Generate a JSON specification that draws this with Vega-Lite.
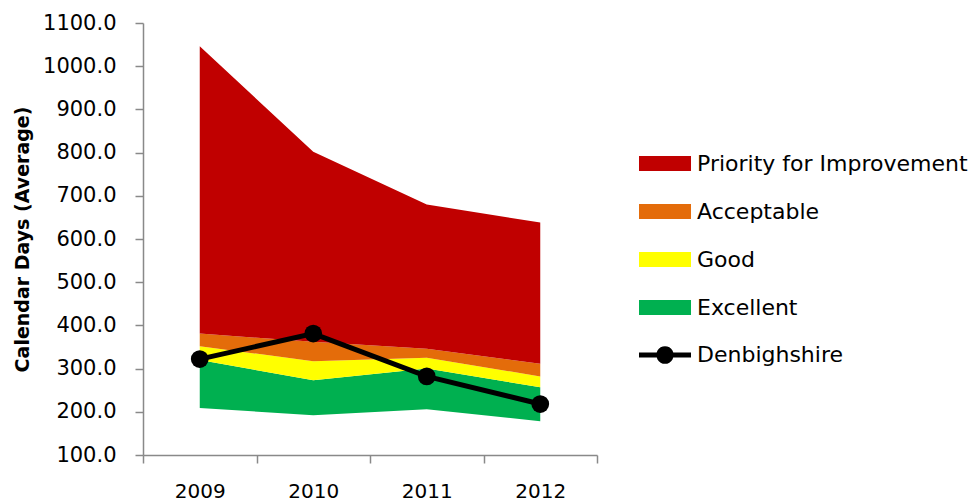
{
  "$schema": "https://vega.github.io/schema/vega-lite/v6.json",
  "autosize": {"type": "none"},
  "padding": {"left": 143, "top": 23, "right": 377, "bottom": 46},
  "width": 454,
  "height": 432,
  "background": "white",
  "config": {
    "font": "DejaVu Sans",
    "view": {"stroke": null},
    "axis": {"grid": false, "domainColor": "#898989", "tickColor": "#898989", "domainWidth": 1.5, "tickWidth": 1.5, "labelColor": "#000000", "titleColor": "#000000", "labelFont": "DejaVu Sans", "titleFont": "DejaVu Sans"},
    "legend": {"labelFont": "DejaVu Sans", "labelColor": "#000000"}
  },
  "datasets": {
    "bands": [
      {"year": "2009", "band": "Excellent", "low": 209, "high": 320},
      {"year": "2010", "band": "Excellent", "low": 192, "high": 273},
      {"year": "2011", "band": "Excellent", "low": 206, "high": 300},
      {"year": "2012", "band": "Excellent", "low": 178, "high": 257},
      {"year": "2009", "band": "Good", "low": 320, "high": 352},
      {"year": "2010", "band": "Good", "low": 273, "high": 317},
      {"year": "2011", "band": "Good", "low": 300, "high": 325},
      {"year": "2012", "band": "Good", "low": 257, "high": 282},
      {"year": "2009", "band": "Acceptable", "low": 352, "high": 381},
      {"year": "2010", "band": "Acceptable", "low": 317, "high": 362},
      {"year": "2011", "band": "Acceptable", "low": 325, "high": 346},
      {"year": "2012", "band": "Acceptable", "low": 282, "high": 311},
      {"year": "2009", "band": "Priority for Improvement", "low": 381, "high": 1046},
      {"year": "2010", "band": "Priority for Improvement", "low": 362, "high": 802},
      {"year": "2011", "band": "Priority for Improvement", "low": 346, "high": 680},
      {"year": "2012", "band": "Priority for Improvement", "low": 311, "high": 638}
    ],
    "denb": [
      {"year": "2009", "series": "Denbighshire", "value": 322},
      {"year": "2010", "series": "Denbighshire", "value": 381},
      {"year": "2011", "series": "Denbighshire", "value": 282},
      {"year": "2012", "series": "Denbighshire", "value": 218}
    ]
  },
  "encoding": {
    "x": {
      "field": "year", "type": "ordinal", "bandPosition": 0.5,
      "scale": {"type": "band", "paddingInner": 0, "paddingOuter": 0},
      "axis": {"title": null, "labelAngle": 0, "labelFontSize": 20, "labelPadding": 18, "tickBand": "extent", "tickSize": 8}
    }
  },
  "layer": [
    {
      "data": {"name": "bands"},
      "mark": {"type": "area", "opacity": 1},
      "encoding": {
        "y": {
          "field": "low", "type": "quantitative", "stack": null,
          "scale": {"domain": [100, 1100], "nice": false, "zero": false},
          "axis": {"title": "Calendar Days (Average)", "titleFontSize": 19, "titleFontWeight": "bold", "titlePadding": 10, "format": ".1f", "values": [100,200,300,400,500,600,700,800,900,1000,1100], "labelFontSize": 21, "labelPadding": 19, "tickSize": 8}
        },
        "y2": {"field": "high"},
        "color": {
          "field": "band", "type": "nominal",
          "scale": {
            "domain": ["Priority for Improvement", "Acceptable", "Good", "Excellent"],
            "range": ["#C00000", "#E46C0A", "#FFFF00", "#00B050"]
          },
          "legend": {
            "title": null, "orient": "none", "legendX": 496, "legendY": 125.5,
            "padding": 0, "labelFontSize": 22, "labelOffset": 28, "rowPadding": 22,
            "symbolSize": 900, "labelLimit": 400, "symbolStrokeWidth": 0, "symbolOpacity": 1,
            "symbolType": "M-1,-0.5H2.467V0.5H-1Z"
          }
        }
      }
    },
    {
      "data": {"name": "denb"},
      "mark": {"type": "line", "strokeWidth": 5, "color": "#000000"},
      "encoding": {
        "y": {"field": "value", "type": "quantitative"}
      }
    },
    {
      "data": {"name": "denb"},
      "mark": {"type": "point", "filled": true, "size": 314, "color": "#000000"},
      "encoding": {
        "y": {"field": "value", "type": "quantitative"},
        "opacity": {
          "field": "series", "type": "nominal",
          "scale": {"range": [1]},
          "legend": {
            "title": null, "orient": "none", "legendX": 496, "legendY": 317,
            "padding": 0, "labelFontSize": 22, "labelOffset": 28,
            "symbolSize": 900, "labelLimit": 400, "symbolStrokeWidth": 0,
            "symbolFillColor": "#000000",
            "symbolType": "M-1,-0.167H2.467V0.167H-1Z M1.3,0A0.567,0.567 0 1,1 0.167,0A0.567,0.567 0 1,1 1.3,0Z"
          }
        }
      }
    }
  ]
}
